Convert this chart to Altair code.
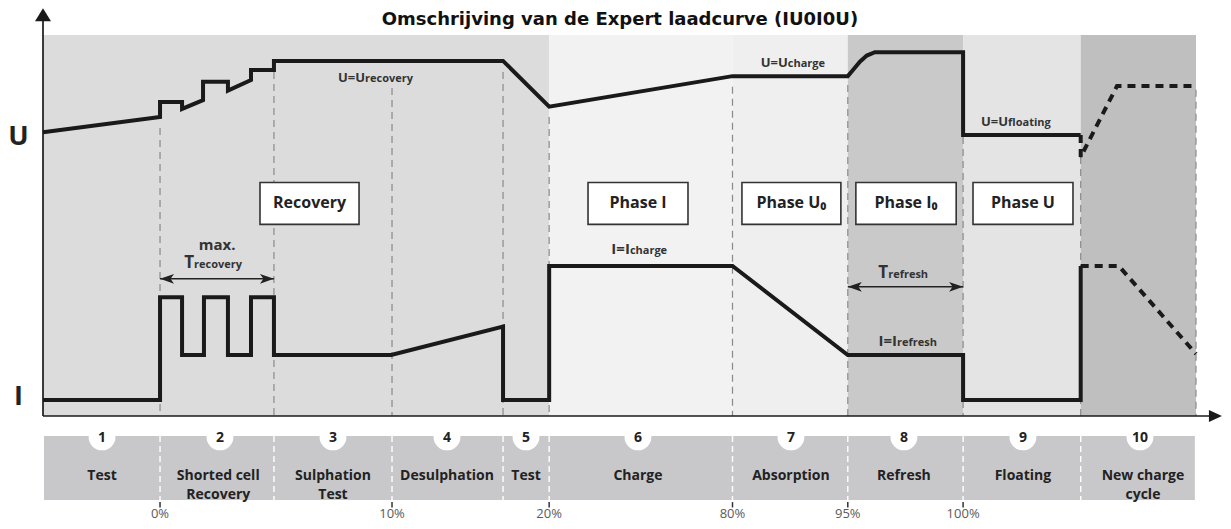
import altair as alt
import pandas as pd

FONT = "Open Sans, DejaVu Sans, sans-serif"
INK = "#222222"

# ---------------- data (time units 0..100, level units 0..100) ----------------
title_text = "Omschrijving van de Expert laadcurve (IU0I0U)"

boundary_t = [10.15, 20.03, 30.27, 39.9, 43.9, 59.8, 69.8, 79.8, 90.0, 100.0]
boundary_top = [75.6, 90.3, 86.1, 90.3, 78.5, 86.4, 86.9, 73.2, 68.0, 85.6]

zone_names = ["pre", "phase1", "phaseU0", "phaseI0", "phaseU", "new"]
zone_start = [0.0, 43.9, 59.8, 69.8, 79.8, 90.0]
zone_end = [43.9, 59.8, 69.8, 79.8, 90.0, 100.0]
zone_colors = ["#dcdcdc", "#f2f2f2", "#efefef", "#c9c9c9", "#e4e4e5", "#bfbfbf"]

u_t = [0.0, 10.15, 10.15, 12.06, 12.06, 13.88, 13.88, 16.04, 16.04, 18.04, 18.04,
       20.03, 20.03, 39.9, 43.9, 59.8, 69.8, 70.25, 70.85, 71.45, 72.15, 79.8, 79.8, 90.0]
u_l = [74.5, 78.5, 82.4, 82.4, 80.6, 82.9, 87.7, 87.7, 85.4, 88.2, 90.8,
       90.8, 93.2, 93.2, 81.2, 89.2, 89.2, 90.8, 93.0, 94.6, 95.5, 95.5, 73.75, 73.75]
u_next_t = [90.0, 90.0, 93.15, 100.0]
u_next_l = [73.75, 68.0, 86.6, 86.6]

i_t = [0.0, 10.15, 10.15, 12.06, 12.06, 13.96, 13.96, 16.04, 16.04, 18.04, 18.04,
       20.03, 20.03, 30.2, 39.9, 39.9, 43.9, 43.9, 59.8, 69.8, 79.8, 79.8, 90.0, 90.0]
i_l = [4.2, 4.2, 31.2, 31.2, 16.0, 16.0, 31.2, 31.2, 16.0, 16.0, 31.2,
       31.2, 16.0, 16.0, 23.5, 4.2, 4.2, 39.4, 39.4, 16.0, 16.0, 4.2, 4.2, 39.4]
i_next_t = [90.0, 93.3, 100.0]
i_next_l = [39.4, 39.4, 16.3]

box_names = ["Recovery", "Phase I", "Phase U\u2080", "Phase I\u2080", "Phase U"]
box_t0 = [18.82, 47.27, 60.62, 70.5, 80.66]
box_t1 = [27.41, 55.94, 69.2, 79.2, 89.33]
box_l0 = [50.3] * 5
box_l1 = [61.3] * 5

eq_grp = ["U", "U", "U", "I", "I", "T", "T"]
eq_main = ["U=U", "U=U", "U=U", "I=I", "I=I", "T", "T"]
eq_sub = ["recovery", "charge", "floating", "charge", "refresh", "recovery", "refresh"]
eq_t = [27.93, 64.6, 83.7, 50.9, 74.07, 13.1, 73.3]
eq_l = [87.7, 91.6, 76.1, 42.5, 18.4, 38.8, 36.2]

span_t0 = [10.15, 69.8]
span_t1 = [20.03, 79.8]
span_l = [36.0, 33.9]

step_num = ["1", "2", "3", "4", "5", "6", "7", "8", "9", "10"]
step_t = [5.12, 15.35, 25.15, 35.04, 41.89, 51.6, 64.87, 74.67, 84.99, 95.14]
step_label_t = [5.12, 15.2, 25.15, 35.04, 41.89, 51.6, 64.87, 74.67, 84.99, 95.4]
step_label = ["Test", "Shorted cell\nRecovery", "Sulphation\nTest", "Desulphation", "Test",
              "Charge", "Absorption", "Refresh", "Floating", "New charge\ncycle"]

pct_text = ["0%", "10%", "20%", "80%", "95%", "100%"]
pct_t = [10.15, 30.27, 43.9, 59.8, 69.8, 79.8]

strip_t0, strip_t1 = 0.09, 99.9
strip_top, strip_bot = -5.25, -22.05

# ---------------- scales ----------------
XS = alt.Scale(domain=[0, 100], nice=False, zero=False)
YS = alt.Scale(domain=[0, 100], nice=False, zero=False)


def X(f):
    return alt.X(f, type="quantitative", scale=XS, axis=None)


def Y(f):
    return alt.Y(f, type="quantitative", scale=YS, axis=None)


layers = []

# background zones
zones = pd.DataFrame({"zone": zone_names, "t0": zone_start, "t1": zone_end,
                      "l0": [0.0] * 6, "l1": [100.0] * 6})
layers.append(alt.Chart(zones).mark_rect().encode(
    x=X("t0"), x2="t1", y=Y("l0"), y2="l1",
    color=alt.Color("zone:N", scale=alt.Scale(domain=zone_names, range=zone_colors), legend=None)))

# bottom strip
strip = pd.DataFrame({"t0": [strip_t0], "t1": [strip_t1], "l0": [strip_top], "l1": [strip_bot]})
layers.append(alt.Chart(strip).mark_rect(color="#c8c8ca").encode(
    x=X("t0"), x2="t1", y=Y("l0"), y2="l1"))

# dashed phase boundaries in plot
bd = pd.DataFrame({"t": boundary_t, "top": boundary_top, "bot": [0.0] * len(boundary_t)})
layers.append(alt.Chart(bd).mark_rule(color="#8a8a8a", strokeWidth=1.2, strokeDash=[7, 5]).encode(
    x=X("t"), y=Y("top"), y2="bot"))

# white dashed boundaries in strip
bs = pd.DataFrame({"t": boundary_t[:-1], "a": [strip_top] * 9, "b": [strip_bot] * 9})
layers.append(alt.Chart(bs).mark_rule(color="white", strokeWidth=1.4, strokeDash=[6, 4]).encode(
    x=X("t"), y=Y("a"), y2="b"))

# step circles + numbers + labels
steps = pd.DataFrame({"t": step_t, "num": step_num, "l": [-5.5] * 10})
layers.append(alt.Chart(steps).mark_circle(size=720, color="white", opacity=1).encode(
    x=X("t"), y=Y("l")))
layers.append(alt.Chart(steps).mark_text(font=FONT, fontWeight="bold", fontSize=14, color=INK,
                                         baseline="middle", align="center", dy=1).encode(
    x=X("t"), y=Y("l"), text="num:N"))
labs = pd.DataFrame({"t": step_label_t, "txt": step_label, "l": [-15.75] * 10})
layers.append(alt.Chart(labs).mark_text(font=FONT, fontWeight="bold", fontSize=14, color=INK,
                                        baseline="middle", align="center", lineBreak="\n",
                                        lineHeight=19).encode(
    x=X("t"), y=Y("l"), text="txt:N"))

# percentage ticks & labels
pct = pd.DataFrame({"t": pct_t, "txt": pct_text, "a": [-22.6] * 6, "b": [-24.0] * 6, "l": [-25.6] * 6})
layers.append(alt.Chart(pct).mark_rule(color="#333333", strokeWidth=1.5).encode(
    x=X("t"), y=Y("a"), y2="b"))
layers.append(alt.Chart(pct).mark_text(font=FONT, fontSize=13, color="#5a5a5a",
                                       baseline="middle", align="center").encode(
    x=X("t"), y=Y("l"), text="txt:N"))

# axes
ax_v = pd.DataFrame({"t": [0.0], "a": [0.0], "b": [103.9]})
layers.append(alt.Chart(ax_v).mark_rule(color="#1a1a1a", strokeWidth=1.7).encode(
    x=X("t"), y=Y("a"), y2="b"))
ax_h = pd.DataFrame({"a": [0.0], "b": [101.4], "l": [0.0]})
layers.append(alt.Chart(ax_h).mark_rule(color="#1a1a1a", strokeWidth=1.7).encode(
    x=X("a"), x2="b", y=Y("l")))
up_tip = pd.DataFrame({"t": [0.0], "l": [107.0]})
layers.append(alt.Chart(up_tip).mark_point(shape="M0,0L1,1.6L-1,1.6Z", size=256, filled=True,
                                           color="#1a1a1a", opacity=1, strokeWidth=0).encode(
    x=X("t"), y=Y("l")))
right_tip = pd.DataFrame({"t": [102.25], "l": [0.0]})
layers.append(alt.Chart(right_tip).mark_point(shape="M0,0L-2,-0.92L-2,0.92Z", size=169, filled=True,
                                              color="#1a1a1a", opacity=1, strokeWidth=0).encode(
    x=X("t"), y=Y("l")))

# phase boxes
boxes = pd.DataFrame({"name": box_names, "t0": box_t0, "t1": box_t1, "l0": box_l0, "l1": box_l1})
layers.append(alt.Chart(boxes).mark_rect(fill="white", stroke="#333333", strokeWidth=1.6).encode(
    x=X("t0"), x2="t1", y=Y("l0"), y2="l1"))
layers.append(alt.Chart(boxes).transform_calculate(
    tc="(datum.t0 + datum.t1) / 2", lc="(datum.l0 + datum.l1) / 2").mark_text(
    font=FONT, fontWeight="bold", fontSize=16, color=INK, baseline="middle", align="center").encode(
    x=X("tc"), y=Y("lc"), text="name:N"))

# curves
def curve(ts, ls, dashed):
    df = pd.DataFrame({"t": ts, "l": ls, "i": list(range(len(ts)))})
    kw = dict(color="#1a1a1a", strokeWidth=4, strokeJoin="miter")
    if dashed:
        kw["strokeDash"] = [8, 6]
    return alt.Chart(df).mark_line(**kw).encode(x=X("t"), y=Y("l"), order="i:Q")


layers.append(curve(u_t, u_l, False))
layers.append(curve(u_next_t, u_next_l, True))
layers.append(curve(i_t, i_l, False))
layers.append(curve(i_next_t, i_next_l, True))

# equation labels (main part + subscript part)
eq = pd.DataFrame({"grp": eq_grp, "main": eq_main, "sub": eq_sub, "t": eq_t, "l": eq_l})
main_sizes = {"U": 13, "I": 15, "T": 17}
for g, fs in main_sizes.items():
    layers.append(alt.Chart(eq).transform_filter(alt.datum.grp == g).mark_text(
        font=FONT, fontWeight="bold", fontSize=fs, color="#333333", align="right",
        baseline="alphabetic").encode(x=X("t"), y=Y("l"), text="main:N"))
layers.append(alt.Chart(eq).mark_text(
    font=FONT, fontWeight="bold", fontSize=11, color="#333333", align="left",
    baseline="alphabetic").encode(x=X("t"), y=Y("l"), text="sub:N"))

# double arrows
spans = pd.DataFrame({"t0": span_t0, "t1": span_t1, "l": span_l})
layers.append(alt.Chart(spans).mark_rule(color=INK, strokeWidth=1.5).encode(
    x=X("t0"), x2="t1", y=Y("l")))
layers.append(alt.Chart(spans).mark_point(shape="M0,0L2,-0.7L1.5,0L2,0.7Z", size=196, filled=True,
                                          color=INK, opacity=1, strokeWidth=0).encode(
    x=X("t0"), y=Y("l")))
layers.append(alt.Chart(spans).mark_point(shape="M0,0L-2,-0.7L-1.5,0L-2,0.7Z", size=196, filled=True,
                                          color=INK, opacity=1, strokeWidth=0).encode(
    x=X("t1"), y=Y("l")))

# "max." label
mx = pd.DataFrame({"t": [15.1], "l": [43.6], "txt": ["max."]})
layers.append(alt.Chart(mx).mark_text(font=FONT, fontWeight="bold", fontSize=15, color="#333333",
                                      align="center", baseline="alphabetic").encode(
    x=X("t"), y=Y("l"), text="txt:N"))

# U / I axis letters
ui = pd.DataFrame({"t": [-2.12, -2.12], "l": [73.1, 5.0], "txt": ["U", "I"]})
layers.append(alt.Chart(ui).mark_text(font=FONT, fontWeight="bold", fontSize=27, color=INK,
                                      align="center", baseline="middle").encode(
    x=X("t"), y=Y("l"), text="txt:N"))

# title
tt = pd.DataFrame({"t": [50.04], "l": [102.5], "txt": [title_text]})
layers.append(alt.Chart(tt).mark_text(font="DejaVu Sans", fontWeight="bold", fontSize=18, color="#111111",
                                      align="center", baseline="alphabetic").encode(
    x=X("t"), y=Y("l"), text="txt:N"))

chart = alt.layer(*layers).properties(
    width=1153, height=381,
    padding={"left": 35, "top": 27, "right": 27, "bottom": 108},
    autosize=alt.AutoSizeParams(type="none"),
    background="white",
).configure_view(stroke=None)

chart.save("out.html", embed_options={"renderer": "svg", "actions": False})
